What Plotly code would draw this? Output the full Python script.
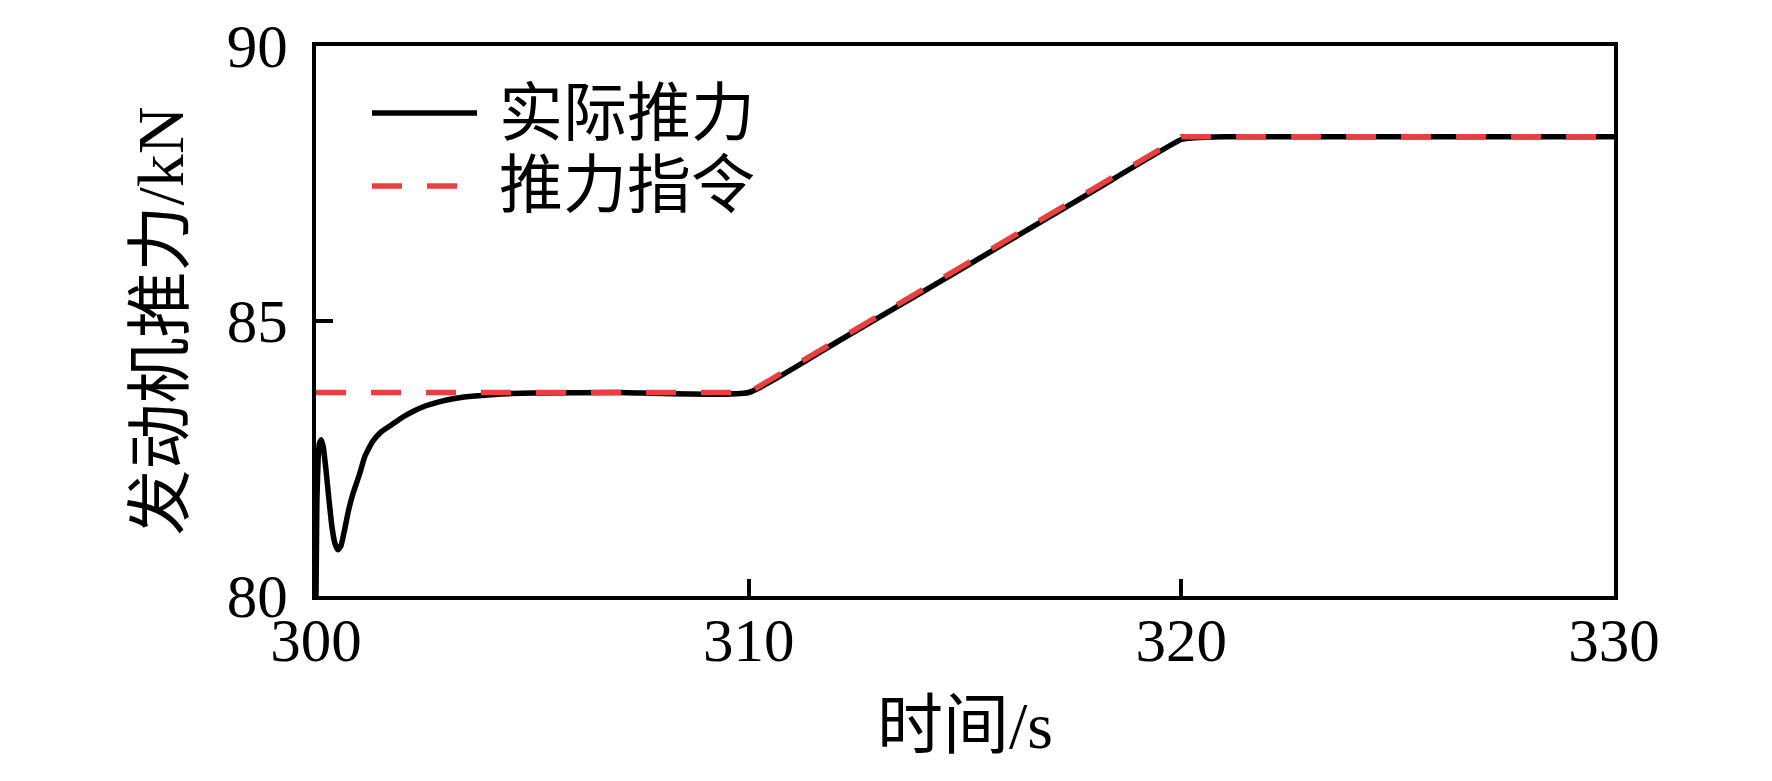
import plotly.graph_objects as go

# Data
t_actual = [300.0, 300.02, 300.05, 300.08, 300.12, 300.17, 300.23, 300.3, 300.37, 300.44,
            300.51, 300.58, 300.66, 300.75, 300.85, 301.0, 301.13, 301.3, 301.5, 301.74,
            302.0, 302.25, 302.51, 302.8, 303.0, 303.28, 303.6, 304.05, 304.5, 305.0,
            307.0, 310.0, 312.0, 314.0, 316.0, 318.0, 320.0, 320.3, 321.0, 325.0, 330.0]
f_actual = [80.0, 81.7, 82.5, 82.78, 82.84, 82.7, 82.3, 81.75, 81.25, 80.95,
            80.84, 80.92, 81.2, 81.55, 81.85, 82.2, 82.54, 82.8, 82.98, 83.11,
            83.25, 83.36, 83.45, 83.52, 83.56, 83.6, 83.63, 83.66, 83.68, 83.69,
            83.7, 83.7, 84.6, 85.52, 86.45, 87.38, 88.3, 88.33, 88.35, 88.35, 88.35]

t_cmd = [300.0, 310.0, 320.0, 330.0]
f_cmd = [83.7, 83.7, 88.35, 88.35]

series_names = ["实际推力", "推力指令"]
x_ticks = [300, 310, 320, 330]
y_ticks = [80, 85, 90]

FONT = "Liberation Serif, Times New Roman, Noto Sans CJK SC, serif"
RED = "#E8403F"
DASH = "30px,25px"

fig = go.Figure()
fig.add_trace(go.Scatter(x=t_actual, y=f_actual, mode="lines", name=series_names[0],
                         line=dict(color="black", width=5.5, shape="spline", smoothing=0.4),
                         showlegend=False))
fig.add_trace(go.Scatter(x=t_cmd, y=f_cmd, mode="lines", name=series_names[1],
                         line=dict(color=RED, width=5.5, dash=DASH),
                         showlegend=False))

# Manual legend (paper coordinates) to match the long line samples
W, H = 1772, 781
L, R, T, B = 308, 166, 38, 193
pw, ph = W - L - R, H - T - B

def px(xp):
    return (xp - L) / pw

def py(yp):
    return 1 - (yp - T) / ph

legend_rows = [(105, "black", "solid"), (178, RED, "dash")]
for (yp, col, dash), name in zip(legend_rows, series_names):
    fig.add_shape(type="line", xref="paper", yref="paper",
                  x0=px(364), x1=px(469), y0=py(yp), y1=py(yp),
                  line=dict(color=col, width=5.5, dash=DASH if dash == "dash" else "solid"))
    fig.add_annotation(xref="paper", yref="paper", x=px(490), y=py(yp), text=name,
                       showarrow=False, xanchor="left", yanchor="middle",
                       borderpad=0,
                       font=dict(family=FONT, size=64, color="black"))

axis_common = dict(showline=True, linecolor="black", linewidth=4, mirror=True,
                   ticks="inside", ticklen=17, tickwidth=4, tickcolor="black",
                   showgrid=False, zeroline=False,
                   tickfont=dict(family=FONT, size=61, color="black"))

fig.update_xaxes(range=[300, 330], tickvals=x_ticks, ticktext=[str(v) for v in x_ticks],
                 ticklabelstandoff=-12,
                 title=dict(text="时间/s", font=dict(family=FONT, size=66, color="black"), standoff=30),
                 **axis_common)
fig.update_yaxes(range=[80, 90], tickvals=y_ticks, ticktext=[str(v) for v in y_ticks],
                 ticklabelstandoff=12,
                 title=dict(text="发动机推力/kN", font=dict(family=FONT, size=66, color="black"), standoff=23),
                 **axis_common)

fig.update_layout(width=W, height=H, margin=dict(l=L, r=R, t=T, b=B, autoexpand=False),
                  plot_bgcolor="white", paper_bgcolor="white", showlegend=False)

fig.write_html("out.html")
